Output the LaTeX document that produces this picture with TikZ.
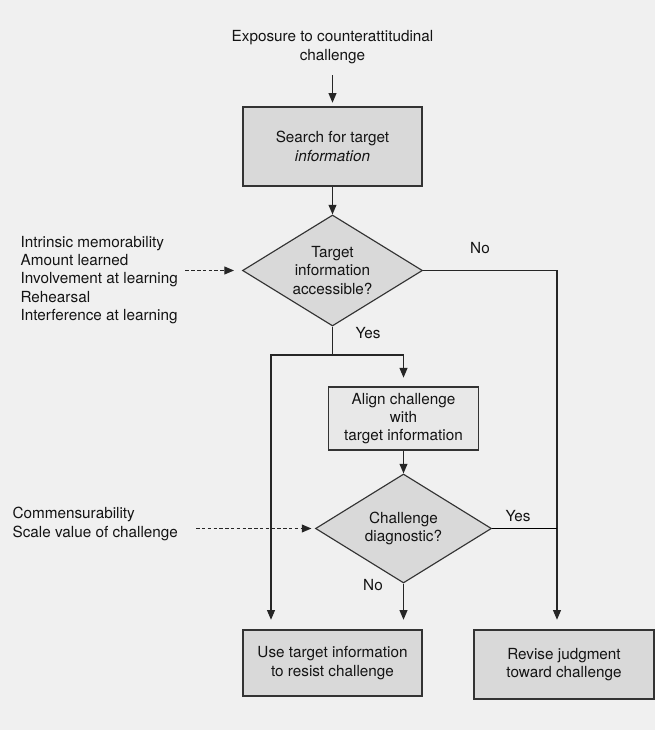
\documentclass[tikz,border=0pt]{standalone}
\usepackage{fontspec}
\setmainfont{TeX Gyre Heros}
\usetikzlibrary{shapes.geometric,arrows.meta}

\begin{document}
\begin{tikzpicture}[
    font=\fontsize{8.7}{10.4}\selectfont,
    text=black!92,
    line width=0.65pt,
    box/.style={rectangle, draw=black!80, fill=black!15, align=center},
    decision/.style={diamond, draw=black!80, fill=black!15, align=center, inner sep=0pt, aspect=1.6},
    arr/.style={draw=black!85, -{Triangle[length=5.5pt,width=4.5pt]}},
    dasharr/.style={arr, dash pattern=on 2pt off 1.3pt},
    lbl/.style={align=left, inner sep=0pt}
]
    % Background
    \fill[black!6] (0,0) rectangle (13.1,14.6);
    \useasboundingbox (0,0) rectangle (13.1,14.6);

    % Start
    \node[align=center] (expo) at (6.65,13.66) {Exposure to counterattitudinal\\challenge};
    \node[box, line width=0.8pt, minimum width=3.58cm, minimum height=1.58cm] (search) at (6.65,11.67) {Search for target\\\textit{information}};
    \draw[arr, shorten <=3pt, shorten >=2pt] (expo) -- (search);

    % First decision
    \node[decision, minimum width=3.6cm, minimum height=2.22cm] (access) at (6.65,9.19) {Target\\information\\accessible?};
    \draw[arr] (search) -- (access);
    \node[lbl, anchor=west] (memo) at (0.4,9.0) {Intrinsic memorability\\Amount learned\\Involvement at learning\\Rehearsal\\Interference at learning};
    \draw[dasharr, shorten <=4pt, shorten >=4.5pt] (memo.east |- access.west) -- (access.west);
    \node (no1) at (9.6,9.64) {No};
    \node (yes1) at (7.36,7.94) {Yes};

    % Second step
    \node[box, fill=black!9, minimum width=3.0cm, minimum height=1.26cm] (align) at (8.07,6.23) {Align challenge\\with\\target information};
    \node[decision, minimum width=3.52cm, minimum height=2.18cm] (diag) at (8.07,4.03) {Challenge\\diagnostic?};
    \draw[arr] (align) -- (diag);
    \node[lbl, anchor=west] (scale) at (0.24,4.12) {Commensurability\\Scale value of challenge};
    \draw[dasharr, shorten <=10pt, shorten >=2pt] (scale.east |- diag.west) -- (diag.west);
    \node (yes2) at (10.36,4.28) {Yes};
    \node (no2) at (7.46,2.90) {No};

    % Outcomes
    \node[box, minimum width=3.58cm, minimum height=1.32cm] (resist) at (6.65,1.34) {Use target information\\to resist challenge};
    \node[box, minimum width=3.6cm, minimum height=1.38cm] (revise) at (11.28,1.31) {Revise judgment\\toward challenge};

    % Edges
    \coordinate (split) at (6.65,7.5);
    \coordinate (yl) at (5.42,7.5);
    \coordinate (yr) at (8.07,7.5);
    \coordinate (c1) at (11.14,9.19);
    \coordinate (c2) at (11.14,4.03);
    \draw[arr, shorten >=5pt] (access.south) |- (yr) -- (align.north);
    \draw[arr, shorten >=5.5pt] (split) -| (yl |- resist.north);
    \draw[arr, shorten >=5.5pt] (access.east) -- (c1) -- (c1 |- revise.north);
    \draw (diag.east) -- (c2);
    \draw[arr, shorten >=5.5pt] (diag.south) -- (diag.south |- resist.north);

\end{tikzpicture}
\end{document}
